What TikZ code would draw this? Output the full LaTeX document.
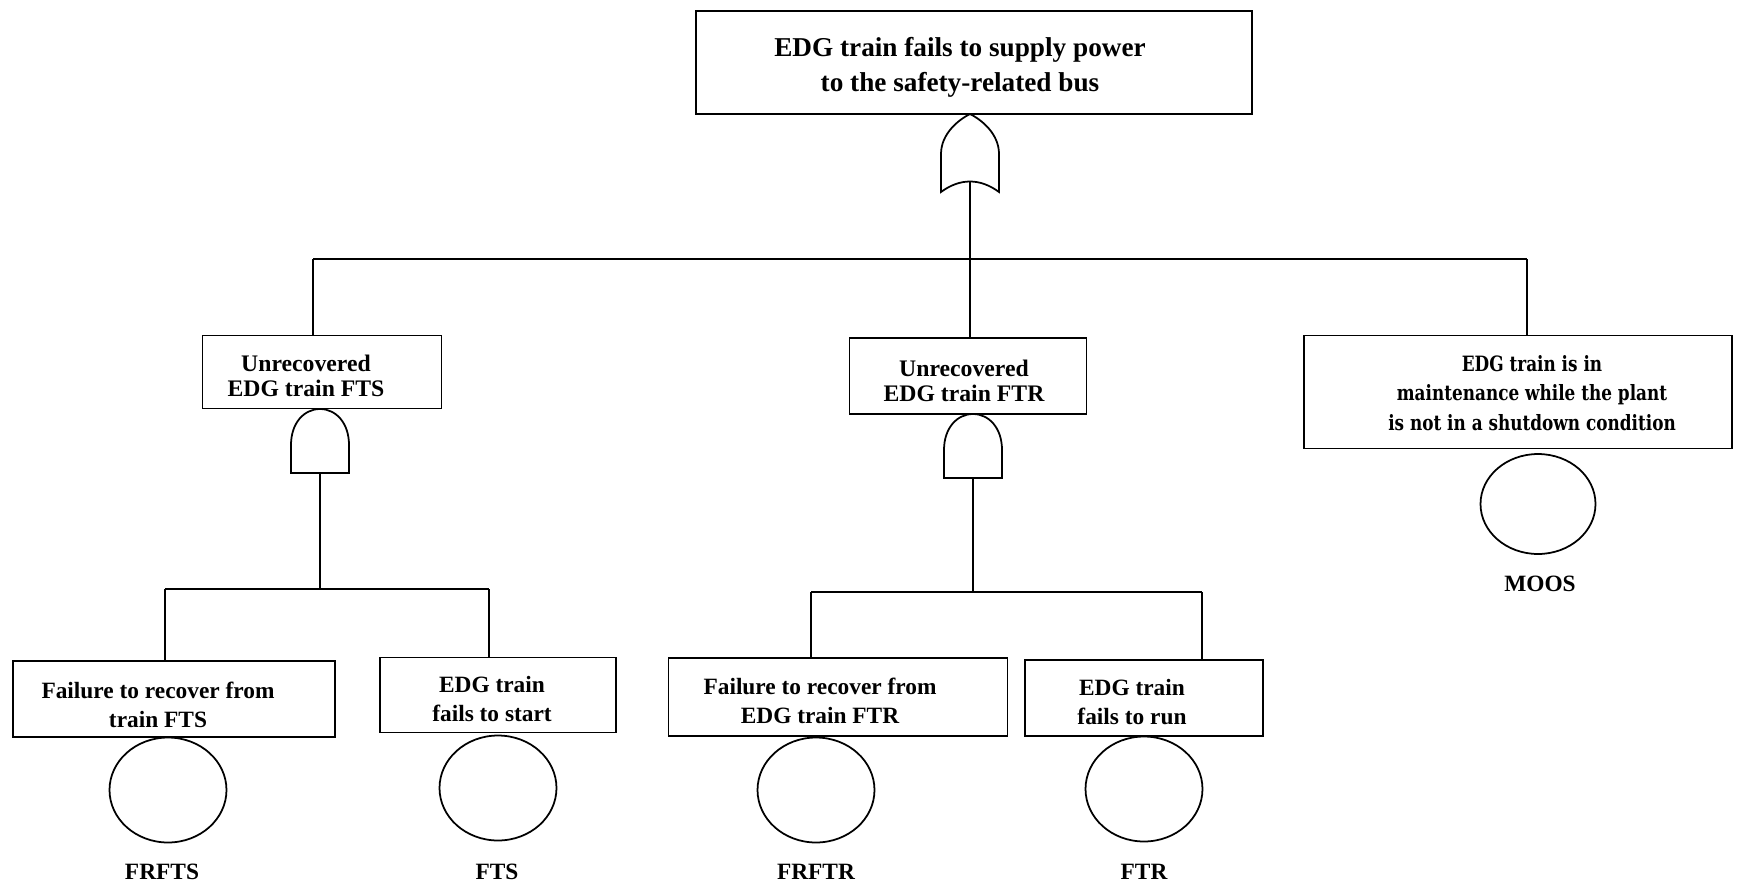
\documentclass[tikz,border=0pt]{standalone}
\usepackage{fontspec}
\setmainfont{Liberation Serif}
\newfontfamily\widefont[FakeStretch=0.8]{DejaVu Serif}
\usetikzlibrary{shapes.geometric}
\begin{document}
\begin{tikzpicture}[
  x=0.02cm, y=-0.02cm,
  every node/.style={font=\bfseries\fontsize{13.3}{16.5}\selectfont},
  wire/.style={line width=1pt},
  event/.style={draw, line width=1pt, inner sep=0pt},
  etext/.style={align=center, inner sep=0pt},
  basic/.style={draw, line width=1pt, ellipse, inner sep=0pt, minimum width=2.34cm, minimum height=2.1cm},
  orgate/.pic={
    \draw[wire] (-29,78) -- (-29,40) .. controls (-29,20) and (-12,6) .. (0,0)
      .. controls (12,6) and (29,20) .. (29,40) -- (29,78)
      .. controls (10,64) and (-10,64) .. (-29,78) -- cycle;
    \coordinate (-out) at (0,68);
  },
  andgate/.pic={
    \draw[wire] (-29,64) -- (-29,36) .. controls (-29,14) and (-16,0) .. (0,0)
      .. controls (16,0) and (29,14) .. (29,36) -- (29,64) -- cycle;
    \coordinate (-out) at (0,64);
  }
]
\useasboundingbox (0,0) rectangle (1737,890);

% top event
\node[event, minimum width=11.12cm, minimum height=2.06cm] (top) at (974,62.5) {};
\node[etext, font=\bfseries\fontsize{15.5}{20}\selectfont] (ttop) at (960,67) {EDG train fails to supply power\\to the safety-related bus};
\pic (gor) at (970,114) {orgate};

% second level
\node[event, minimum width=4.78cm, minimum height=1.46cm] (unfts) at (322,372) {};
\node[etext, font=\bfseries\fontsize{13.5}{14.5}\selectfont] (tunfts) at (306,376) {Unrecovered\\EDG train FTS};
\node[event, minimum width=4.74cm, minimum height=1.52cm] (unftr) at (968,376) {};
\node[etext, font=\bfseries\fontsize{13.5}{14.5}\selectfont] (tunftr) at (964,381) {Unrecovered\\EDG train FTR};
\node[event, minimum width=8.56cm, minimum height=2.26cm] (maint) at (1518,392) {};
\node[etext, font=\widefont\bfseries\fontsize{12}{16.6}\selectfont] (tmaint) at (1532,393) {EDG train is in\\maintenance while the plant\\is not in a shutdown condition};
\pic (gfts) at (320,409) {andgate};
\pic (gftr) at (973,414) {andgate};

\coordinate (b0l) at (313,259);
\coordinate (b0m) at (970,259);
\coordinate (b0r) at (1527,259);
\draw[wire] (gor-out) -- (b0m);
\draw[wire] (b0l) -- (b0r);
\draw[wire] (b0l) -- (b0l |- unfts.north);
\draw[wire] (b0m) -- (b0m |- unftr.north);
\draw[wire] (b0r) -- (b0r |- maint.north);

% third level
\node[event, minimum width=6.44cm, minimum height=1.52cm] (frfts) at (174,699) {};
\node[etext] (tfrfts) at (158,705) {Failure to recover from\\train FTS};
\node[event, minimum width=4.72cm, minimum height=1.5cm] (fts) at (498,695) {};
\node[etext] (tfts) at (492,699) {EDG train\\fails to start};
\node[event, minimum width=6.78cm, minimum height=1.56cm] (frftr) at (838,697) {};
\node[etext] (tfrftr) at (820,701) {Failure to recover from\\EDG train FTR};
\node[event, minimum width=4.76cm, minimum height=1.52cm] (ftr) at (1144,698) {};
\node[etext] (tftr) at (1132,702) {EDG train\\fails to run};

\coordinate (b1l) at (165,589);
\coordinate (b1r) at (489,589);
\coordinate (b2l) at (811,592);
\coordinate (b2r) at (1202,592);
\draw[wire] (gfts-out) -- (gfts-out |- b1l);
\draw[wire] (b1l) -- (b1r);
\draw[wire] (b1l) -- (b1l |- frfts.north);
\draw[wire] (b1r) -- (b1r |- fts.north);
\draw[wire] (gftr-out) -- (gftr-out |- b2l);
\draw[wire] (b2l) -- (b2r);
\draw[wire] (b2l) -- (b2l |- frftr.north);
\draw[wire] (b2r) -- (b2r |- ftr.north);

% basic events
\node[basic] (cfrfts) at (168,790) {};
\node[basic] (cfts) at (498,788) {};
\node[basic] (cfrftr) at (816,790) {};
\node[basic] (cftr) at (1144,789) {};
\node[basic, minimum width=2.3cm, minimum height=2cm] (cmoos) at (1538,504) {};

\node (lfrfts) at (162,872) {FRFTS};
\node (lfts) at (497,872) {FTS};
\node (lfrftr) at (816,872) {FRFTR};
\node (lftr) at (1144,872) {FTR};
\node (lmoos) at (1540,584) {MOOS};
\end{tikzpicture}
\end{document}
